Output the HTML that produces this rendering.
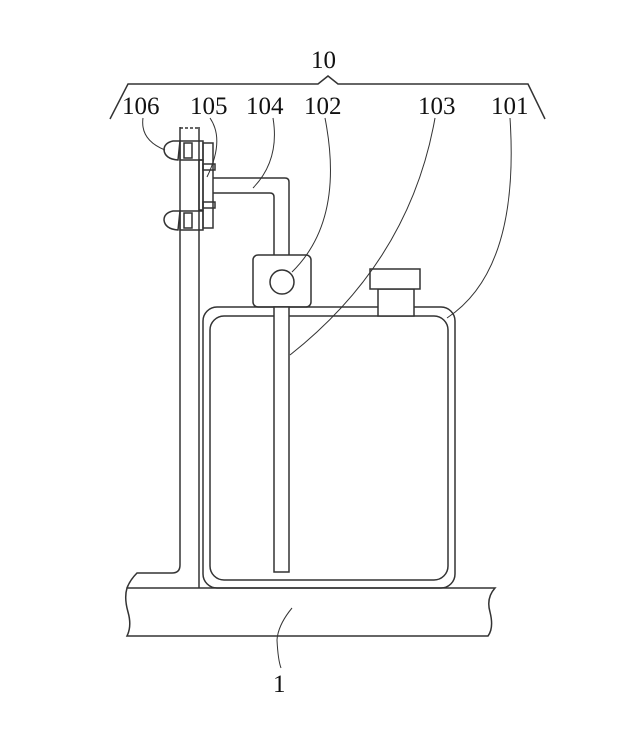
<!DOCTYPE html><html><head><style>body{margin:0;background:#fff}svg{display:block}text{font-family:"Liberation Serif",serif;font-size:25px;fill:#111}</style></head><body>
<svg width="624" height="729" viewBox="0 0 624 729" fill="none" stroke="#333" stroke-width="1.5">
<polyline points="110,119 128,84 318,84 328,76 338,84 528,84 545,119"/>
<g stroke="none"><text x="311" y="68">10</text><text x="122" y="114">106</text><text x="190" y="114">105</text><text x="246" y="114">104</text><text x="304" y="114">102</text><text x="418" y="114">103</text><text x="491" y="114">101</text><text x="273" y="692">1</text></g>
<!-- base -->
<path d="M127,588 L495,588 Q486,598 490,612 Q494,628 488,636 L127,636 Q132,626 128,612 Q124,598 127,588 Z"/>
<!-- pole -->
<path d="M180,127 L180,565 Q180,573 172,573 L137,573 Q130,580 127,588"/>
<line x1="199" y1="127" x2="199" y2="588"/>
<path d="M180,128 L199,128" stroke-dasharray="3 2"/>
<!-- clamp -->
<rect x="203" y="143" width="10" height="85"/>
<rect x="199" y="160" width="4" height="50"/>
<rect x="180" y="141" width="23" height="19"/><rect x="184" y="143" width="8" height="15"/>
<rect x="180" y="211" width="23" height="19"/><rect x="184" y="213" width="8" height="15"/>
<path d="M180,141 L173,141 Q164,143 164,150 Q165,159 178,160 Z"/>
<path d="M180,211 L173,211 Q164,213 164,220 Q165,229 178,230 Z"/>
<rect x="203" y="164" width="12" height="6"/><rect x="203" y="202" width="12" height="6"/>
<!-- pipe -->
<path d="M213,178 L285,178 Q289,178 289,182 L289,255"/>
<path d="M213,193 L270,193 Q274,193 274,197 L274,255"/>
<!-- valve -->
<rect x="253" y="255" width="58" height="52" rx="5"/>
<circle cx="282" cy="282" r="12"/>
<!-- tank -->
<rect x="203" y="307" width="252" height="281" rx="14"/>
<rect x="210" y="316" width="238" height="264" rx="14"/>
<rect x="274" y="307" width="15" height="265" fill="#fff"/>
<rect x="378" y="289" width="36" height="27" fill="#fff"/>
<rect x="370" y="269" width="50" height="20" fill="#fff"/>
<!-- leaders -->
<g stroke-width="1">
<path d="M143,118 Q140,140 165,150"/>
<path d="M210,118 Q225,140 207,177"/>
<path d="M273,118 Q280,160 253,188"/>
<path d="M325,118 Q345,220 292,272"/>
<path d="M435,118 Q410,260 290,355"/>
<path d="M510,118 Q520,270 447,318"/>
<path d="M292,608 Q278,625 277,640 Q278,660 281,668"/>
</g>
</svg></body></html>
